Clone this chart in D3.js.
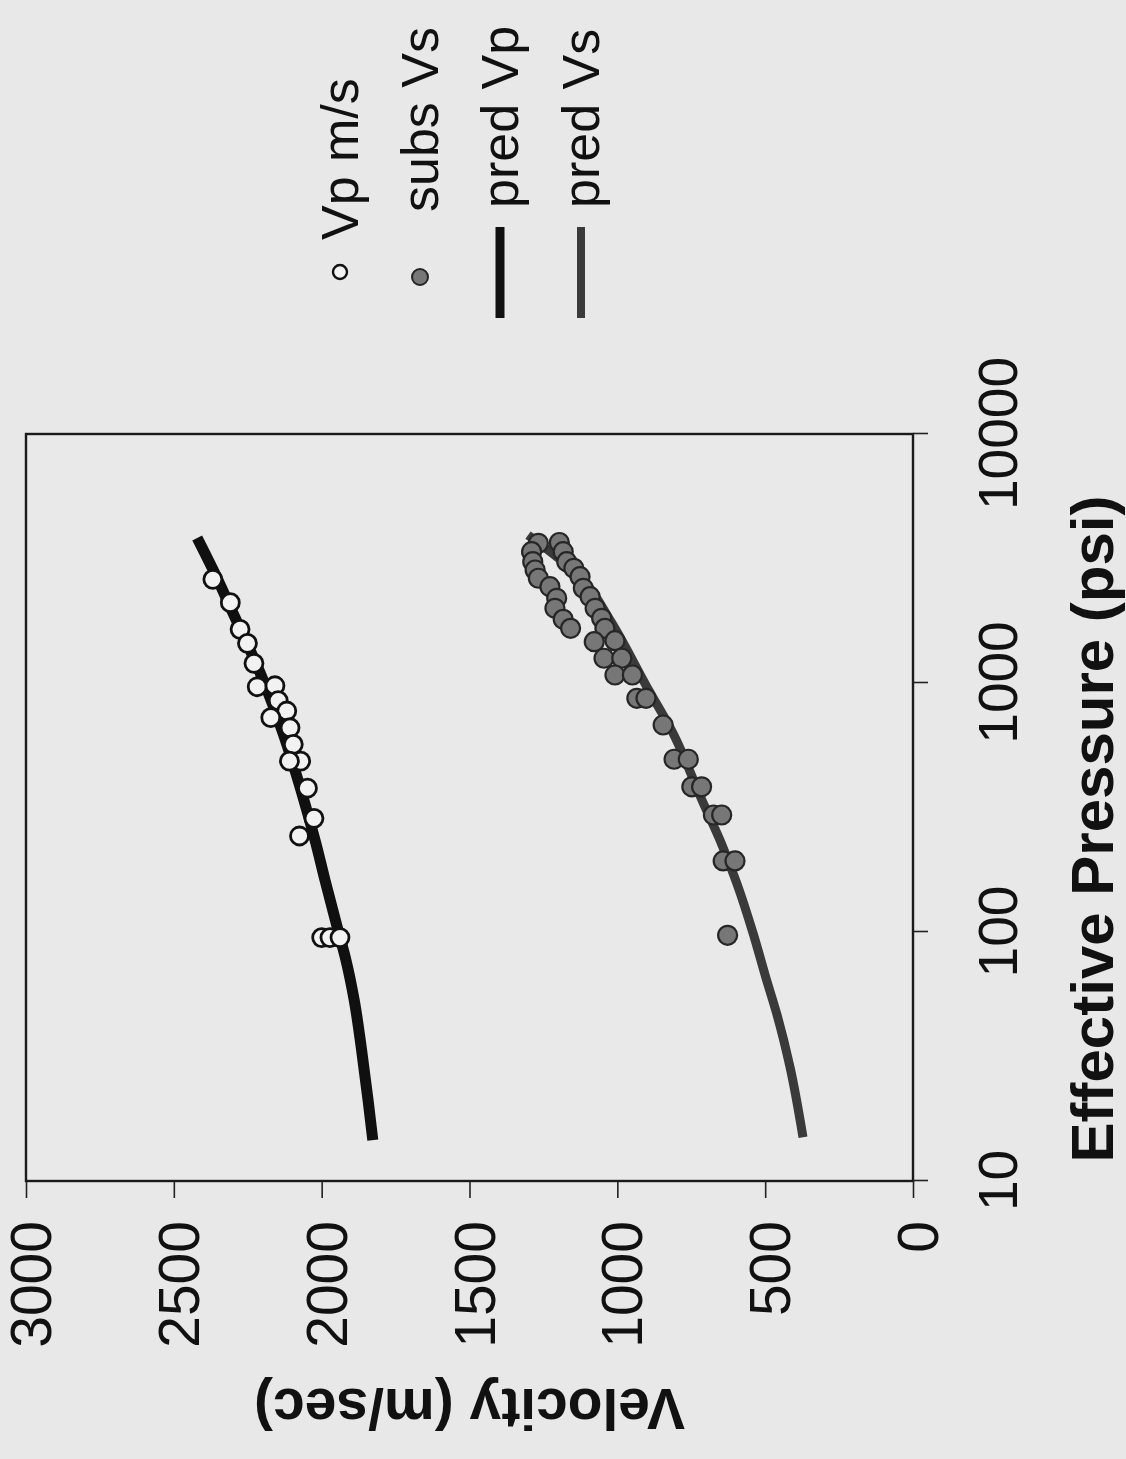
<!DOCTYPE html>
<html>
<head>
<meta charset="utf-8">
<script src="https://cdn.jsdelivr.net/npm/d3@7"></script>
<style>
  html, body { margin: 0; padding: 0; background: #e8e8e8; }
  svg { display: block; }
  text { font-family: "Liberation Sans", Arial, Helvetica, sans-serif; fill: #111; }
</style>
</head>
<body>
<svg id="chart" width="1126" height="1459"></svg>
<script>
// Axis ticks
const pressureTicks = [10, 100, 1000, 10000];
const velocityTicks = [0, 500, 1000, 1500, 2000, 2500, 3000];

// Measured Vp (m/s) vs effective pressure (psi)
const vpPressure = [2609, 2101, 1643, 1443, 1200, 966, 975, 849, 772, 726, 661, 567, 486, 486, 378, 286, 243, 95, 95, 95];
const vpVelocity = [2368, 2309, 2276, 2251, 2229, 2218, 2158, 2147, 2118, 2172, 2107, 2096, 2071, 2109, 2048, 2026, 2075, 2000, 1972, 1938];

// Substituted Vs (m/s) vs effective pressure (psi)
const vsPressure = [3640, 3367, 3070, 2843, 2634, 2436, 2189, 1995, 1802, 1658,
                    3667, 3367, 3070, 2888, 2673, 2401, 2221, 1995, 1819, 1658,
                    1465, 1479, 1257, 1257, 1077, 1077, 868, 868, 678, 494, 494,
                    383, 383, 295, 295, 193, 193, 97];
const vsVelocity = [1267, 1290, 1286, 1278, 1267, 1228, 1205, 1211, 1183, 1158,
                    1196, 1183, 1171, 1147, 1126, 1115, 1092, 1075, 1053, 1042,
                    1078, 1008, 1045, 985, 1008, 949, 934, 903, 845, 808, 760,
                    748, 715, 675, 647, 642, 602, 627];

// Predicted curves
const predVpPressure = [14.6, 21.1, 33.6, 53.3, 77.2, 102, 162, 228, 348, 630, 1097, 1910, 2844, 3823];
const predVpVelocity = [1827, 1843, 1865, 1890, 1918, 1945, 1989, 2020, 2063, 2131, 2208, 2300, 2367, 2421];
const predVsPressure = [15, 28.7, 47, 64, 99, 157, 234, 339, 630, 964, 1791, 2594, 3926];
const predVsVelocity = [372, 416, 461, 495, 541, 596, 653, 714, 812, 900, 1025, 1116, 1302];

const legendLabels = ["Vp m/s", "subs Vs", "pred Vp", "pred Vs"];

const zip = (a, b) => a.map((p, i) => ({ p, v: b[i] }));
const vpPoints = zip(vpPressure, vpVelocity);
const vsPoints = zip(vsPressure, vsVelocity);
const predVp = zip(predVpPressure, predVpVelocity);
const predVs = zip(predVsPressure, predVsVelocity);

const W = 1459;   // chart is laid out landscape, then turned on its side
const svg = d3.select("#chart");
svg.append("rect").attr("width", 1126).attr("height", 1459).attr("fill", "#e8e8e8");

const g = svg.append("g").attr("transform", `translate(0,${W}) rotate(-90)`);

const plot = { left: 278, right: 1025, top: 26, bottom: 913 };
const x = d3.scaleLog().domain([10, 10000]).range([plot.left, plot.right]);
const y = d3.scaleLinear().domain([0, 3000]).range([plot.bottom, plot.top]);

// Frame
g.append("rect")
  .attr("x", plot.left).attr("y", plot.top)
  .attr("width", plot.right - plot.left).attr("height", plot.bottom - plot.top)
  .attr("fill", "#e9e9e9").attr("stroke", "#1a1a1a").attr("stroke-width", 2.4);

// Velocity axis
const yAxis = g.append("g")
  .attr("transform", `translate(${plot.left},0)`)
  .call(d3.axisLeft(y).tickValues(velocityTicks).tickSize(17).tickSizeOuter(0).tickFormat(d3.format("d")));
yAxis.select(".domain").remove();
yAxis.selectAll(".tick line").attr("stroke", "#222").attr("stroke-width", 1.6);
yAxis.selectAll(".tick text")
  .attr("x", -40).attr("dy", "0.43em")
  .attr("text-anchor", "end")
  .style("font-size", "57px").attr("fill", "#111");

// Pressure axis (log)
const xAxis = g.append("g")
  .attr("transform", `translate(0,${plot.bottom})`)
  .call(d3.axisBottom(x).tickValues(pressureTicks).tickSize(15).tickSizeOuter(0).tickFormat(d3.format("d")));
xAxis.select(".domain").remove();
xAxis.selectAll(".tick line").attr("stroke", "#222").attr("stroke-width", 1.6);
xAxis.selectAll(".tick text")
  .attr("y", 104).attr("dy", 0)
  .attr("text-anchor", "middle")
  .style("font-size", "55px").attr("fill", "#111");

// Axis titles
g.append("text")
  .attr("transform", `translate(70,${(plot.top + plot.bottom) / 2}) rotate(-90)`)
  .attr("text-anchor", "middle")
  .style("font-size", "57px").style("font-weight", "bold")
  .text("Velocity (m/sec)");

g.append("text")
  .attr("x", 630).attr("y", 1113)
  .attr("text-anchor", "middle")
  .style("font-size", "60px").style("font-weight", "bold")
  .text("Effective Pressure (psi)");

// Predicted curves
const line = d3.line()
  .x(d => x(d.p)).y(d => y(d.v))
  .curve(d3.curveMonotoneX);

g.append("path").datum(predVp)
  .attr("d", line).attr("fill", "none")
  .attr("stroke", "#101010").attr("stroke-width", 11).attr("stroke-linecap", "butt");

g.append("path").datum(predVs)
  .attr("d", line).attr("fill", "none")
  .attr("stroke", "#3a3a3a").attr("stroke-width", 9).attr("stroke-linecap", "butt");

// Measured points
g.append("g").selectAll("circle").data(vsPoints).join("circle")
  .attr("cx", d => x(d.p)).attr("cy", d => y(d.v)).attr("r", 9.5)
  .attr("fill", "#777").attr("stroke", "#262626").attr("stroke-width", 2.2);

g.append("g").selectAll("circle").data(vpPoints).join("circle")
  .attr("cx", d => x(d.p)).attr("cy", d => y(d.v)).attr("r", 9)
  .attr("fill", "#f2f2f2").attr("stroke", "#111").attr("stroke-width", 2.8);

// Legend
const legend = g.append("g");
const legendRows = [340, 420, 500, 581];
const legendTextX = [1219, 1247, 1251, 1251];
const symX0 = 1141, symX1 = 1232;
legendLabels.forEach((label, i) => {
  const cy = legendRows[i];
  if (i === 0) {
    legend.append("circle").attr("cx", 1187).attr("cy", cy).attr("r", 7)
      .attr("fill", "#f2f2f2").attr("stroke", "#111").attr("stroke-width", 2.4);
  } else if (i === 1) {
    legend.append("circle").attr("cx", 1182).attr("cy", cy).attr("r", 8)
      .attr("fill", "#777").attr("stroke", "#262626").attr("stroke-width", 2);
  } else {
    legend.append("line")
      .attr("x1", symX0).attr("x2", symX1).attr("y1", cy).attr("y2", cy)
      .attr("stroke", i === 2 ? "#101010" : "#3a3a3a")
      .attr("stroke-width", i === 2 ? 9 : 8);
  }
  legend.append("text")
    .attr("x", legendTextX[i]).attr("y", cy + 18)
    .style("font-size", "52px")
    .text(label);
});
</script>
</body>
</html>
